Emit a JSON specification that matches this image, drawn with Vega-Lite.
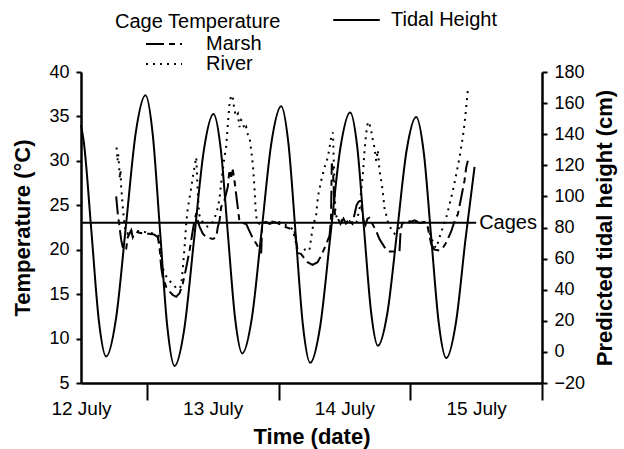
{
  "$schema": "https://vega.github.io/schema/vega-lite/v6.json",
  "width": 461,
  "height": 311,
  "autosize": {"type": "none"},
  "padding": {"left": 81, "top": 72, "right": 82, "bottom": 66},
  "background": "white",
  "title": {"text": "Cage Temperature", "anchor": "start", "frame": "group", "dx": 34, "offset": -38, "baseline": "alphabetic", "fontSize": 20, "fontWeight": "normal", "font": "Liberation Sans", "color": "black"},
  "config": {
    "font": "Liberation Sans",
    "view": {"stroke": null},
    "axis": {"grid": false, "domainColor": "black", "domainWidth": 2.5, "tickColor": "black", "tickWidth": 2, "tickSize": 5, "labelColor": "black", "labelFontSize": 18, "labelFont": "Liberation Sans", "titleFont": "Liberation Sans", "titleFontSize": 22, "titleFontWeight": "bold", "titleColor": "black"},
    "legend": {"labelFont": "Liberation Sans", "labelFontSize": 20, "labelColor": "black", "symbolType": "stroke", "symbolStrokeColor": "black", "symbolStrokeWidth": 2, "clipHeight": 20, "rowPadding": 0, "padding": 0}
  },
  "datasets": {
    "temp": [
      {"day": 0.267, "temp": 26.0, "series": "Marsh"}, {"day": 0.272, "temp": 25.2, "series": "Marsh"}, {"day": 0.279, "temp": 24.1, "series": "Marsh"}, {"day": 0.292, "temp": 22.6, "series": "Marsh"}, {"day": 0.305, "temp": 21.1, "series": "Marsh"}, {"day": 0.317, "temp": 20.3, "series": "Marsh"}, {"day": 0.33, "temp": 19.9, "series": "Marsh"}, {"day": 0.343, "temp": 20.1, "series": "Marsh"}, {"day": 0.355, "temp": 21.4, "series": "Marsh"}, {"day": 0.368, "temp": 21.8, "series": "Marsh"}, {"day": 0.381, "temp": 22.2, "series": "Marsh"}, {"day": 0.393, "temp": 21.4, "series": "Marsh"}, {"day": 0.406, "temp": 21.8, "series": "Marsh"}, {"day": 0.419, "temp": 22.0, "series": "Marsh"}, {"day": 0.444, "temp": 21.9, "series": "Marsh"}, {"day": 0.482, "temp": 21.8, "series": "Marsh"}, {"day": 0.52, "temp": 21.8, "series": "Marsh"}, {"day": 0.558, "temp": 21.7, "series": "Marsh"}, {"day": 0.583, "temp": 21.4, "series": "Marsh"}, {"day": 0.596, "temp": 20.3, "series": "Marsh"}, {"day": 0.609, "temp": 18.0, "series": "Marsh"}, {"day": 0.621, "temp": 16.9, "series": "Marsh"}, {"day": 0.647, "temp": 15.8, "series": "Marsh"}, {"day": 0.672, "temp": 15.3, "series": "Marsh"}, {"day": 0.697, "temp": 14.9, "series": "Marsh"}, {"day": 0.723, "temp": 14.7, "series": "Marsh"}, {"day": 0.748, "temp": 15.1, "series": "Marsh"}, {"day": 0.773, "temp": 16.2, "series": "Marsh"}, {"day": 0.799, "temp": 18.0, "series": "Marsh"}, {"day": 0.824, "temp": 19.9, "series": "Marsh"}, {"day": 0.849, "temp": 22.2, "series": "Marsh"}, {"day": 0.862, "temp": 23.3, "series": "Marsh"}, {"day": 0.875, "temp": 24.1, "series": "Marsh"}, {"day": 0.887, "temp": 23.3, "series": "Marsh"}, {"day": 0.9, "temp": 22.6, "series": "Marsh"}, {"day": 0.925, "temp": 21.8, "series": "Marsh"}, {"day": 0.951, "temp": 21.4, "series": "Marsh"}, {"day": 1.001, "temp": 21.2, "series": "Marsh"}, {"day": 1.027, "temp": 21.4, "series": "Marsh"}, {"day": 1.039, "temp": 22.6, "series": "Marsh"}, {"day": 1.052, "temp": 23.3, "series": "Marsh"}, {"day": 1.064, "temp": 24.8, "series": "Marsh"}, {"day": 1.09, "temp": 25.6, "series": "Marsh"}, {"day": 1.115, "temp": 27.1, "series": "Marsh"}, {"day": 1.127, "temp": 29.0, "series": "Marsh"}, {"day": 1.14, "temp": 28.2, "series": "Marsh"}, {"day": 1.153, "temp": 29.0, "series": "Marsh"}, {"day": 1.165, "temp": 27.8, "series": "Marsh"}, {"day": 1.184, "temp": 25.5, "series": "Marsh"}, {"day": 1.203, "temp": 23.2, "series": "Marsh"}, {"day": 1.228, "temp": 23.0, "series": "Marsh"}, {"day": 1.254, "temp": 22.9, "series": "Marsh"}, {"day": 1.279, "temp": 22.1, "series": "Marsh"}, {"day": 1.304, "temp": 21.3, "series": "Marsh"}, {"day": 1.33, "temp": 20.7, "series": "Marsh"}, {"day": 1.342, "temp": 20.4, "series": "Marsh"}, {"day": 1.368, "temp": 19.6, "series": "Marsh"}, {"day": 1.376, "temp": 23.0, "series": "Marsh"}, {"day": 1.406, "temp": 23.1, "series": "Marsh"}, {"day": 1.431, "temp": 22.9, "series": "Marsh"}, {"day": 1.469, "temp": 23.1, "series": "Marsh"}, {"day": 1.507, "temp": 22.9, "series": "Marsh"}, {"day": 1.545, "temp": 22.6, "series": "Marsh"}, {"day": 1.583, "temp": 22.4, "series": "Marsh"}, {"day": 1.621, "temp": 22.1, "series": "Marsh"}, {"day": 1.644, "temp": 20.0, "series": "Marsh"}, {"day": 1.682, "temp": 19.3, "series": "Marsh"}, {"day": 1.72, "temp": 18.6, "series": "Marsh"}, {"day": 1.758, "temp": 18.3, "series": "Marsh"}, {"day": 1.796, "temp": 18.6, "series": "Marsh"}, {"day": 1.826, "temp": 19.4, "series": "Marsh"}, {"day": 1.864, "temp": 20.7, "series": "Marsh"}, {"day": 1.887, "temp": 21.6, "series": "Marsh"}, {"day": 1.898, "temp": 23.5, "series": "Marsh"}, {"day": 1.904, "temp": 29.7, "series": "Marsh"}, {"day": 1.913, "temp": 29.0, "series": "Marsh"}, {"day": 1.921, "temp": 26.0, "series": "Marsh"}, {"day": 1.928, "temp": 24.0, "series": "Marsh"}, {"day": 1.947, "temp": 23.6, "series": "Marsh"}, {"day": 1.97, "temp": 22.9, "series": "Marsh"}, {"day": 1.993, "temp": 23.5, "series": "Marsh"}, {"day": 2.016, "temp": 22.8, "series": "Marsh"}, {"day": 2.039, "temp": 23.2, "series": "Marsh"}, {"day": 2.061, "temp": 22.9, "series": "Marsh"}, {"day": 2.077, "temp": 24.0, "series": "Marsh"}, {"day": 2.092, "temp": 25.0, "series": "Marsh"}, {"day": 2.107, "temp": 25.4, "series": "Marsh"}, {"day": 2.122, "temp": 25.5, "series": "Marsh"}, {"day": 2.133, "temp": 24.5, "series": "Marsh"}, {"day": 2.145, "temp": 23.3, "series": "Marsh"}, {"day": 2.16, "temp": 22.8, "series": "Marsh"}, {"day": 2.175, "temp": 23.5, "series": "Marsh"}, {"day": 2.19, "temp": 23.6, "series": "Marsh"}, {"day": 2.213, "temp": 22.9, "series": "Marsh"}, {"day": 2.241, "temp": 22.1, "series": "Marsh"}, {"day": 2.266, "temp": 21.2, "series": "Marsh"}, {"day": 2.291, "temp": 20.6, "series": "Marsh"}, {"day": 2.317, "temp": 20.0, "series": "Marsh"}, {"day": 2.342, "temp": 19.8, "series": "Marsh"}, {"day": 2.38, "temp": 19.8, "series": "Marsh"}, {"day": 2.418, "temp": 19.8, "series": "Marsh"}, {"day": 2.426, "temp": 22.0, "series": "Marsh"}, {"day": 2.437, "temp": 22.9, "series": "Marsh"}, {"day": 2.456, "temp": 23.1, "series": "Marsh"}, {"day": 2.494, "temp": 23.1, "series": "Marsh"}, {"day": 2.532, "temp": 23.3, "series": "Marsh"}, {"day": 2.57, "temp": 23.0, "series": "Marsh"}, {"day": 2.608, "temp": 23.1, "series": "Marsh"}, {"day": 2.633, "temp": 22.5, "series": "Marsh"}, {"day": 2.659, "temp": 20.6, "series": "Marsh"}, {"day": 2.684, "temp": 20.0, "series": "Marsh"}, {"day": 2.722, "temp": 19.9, "series": "Marsh"}, {"day": 2.747, "temp": 20.2, "series": "Marsh"}, {"day": 2.773, "temp": 20.8, "series": "Marsh"}, {"day": 2.811, "temp": 22.1, "series": "Marsh"}, {"day": 2.836, "temp": 23.2, "series": "Marsh"}, {"day": 2.861, "temp": 24.0, "series": "Marsh"}, {"day": 2.887, "temp": 25.9, "series": "Marsh"}, {"day": 2.912, "temp": 27.8, "series": "Marsh"}, {"day": 2.925, "temp": 29.3, "series": "Marsh"}, {"day": 2.937, "temp": 30.0, "series": "Marsh"},
      {"day": 0.27, "temp": 31.5, "series": "River"}, {"day": 0.277, "temp": 30.0, "series": "River"}, {"day": 0.282, "temp": 30.8, "series": "River"}, {"day": 0.289, "temp": 29.5, "series": "River"}, {"day": 0.295, "temp": 28.0, "series": "River"}, {"day": 0.3, "temp": 29.0, "series": "River"}, {"day": 0.305, "temp": 27.0, "series": "River"}, {"day": 0.311, "temp": 26.0, "series": "River"}, {"day": 0.317, "temp": 24.8, "series": "River"}, {"day": 0.326, "temp": 23.5, "series": "River"}, {"day": 0.338, "temp": 22.0, "series": "River"}, {"day": 0.353, "temp": 21.8, "series": "River"}, {"day": 0.368, "temp": 22.3, "series": "River"}, {"day": 0.391, "temp": 22.0, "series": "River"}, {"day": 0.444, "temp": 22.1, "series": "River"}, {"day": 0.52, "temp": 21.9, "series": "River"}, {"day": 0.558, "temp": 21.8, "series": "River"}, {"day": 0.596, "temp": 21.5, "series": "River"}, {"day": 0.609, "temp": 19.0, "series": "River"}, {"day": 0.621, "temp": 17.9, "series": "River"}, {"day": 0.647, "temp": 17.0, "series": "River"}, {"day": 0.672, "temp": 16.5, "series": "River"}, {"day": 0.697, "temp": 16.1, "series": "River"}, {"day": 0.723, "temp": 15.7, "series": "River"}, {"day": 0.748, "temp": 15.6, "series": "River"}, {"day": 0.761, "temp": 16.0, "series": "River"}, {"day": 0.773, "temp": 17.9, "series": "River"}, {"day": 0.786, "temp": 20.2, "series": "River"}, {"day": 0.799, "temp": 23.0, "series": "River"}, {"day": 0.811, "temp": 24.7, "series": "River"}, {"day": 0.824, "temp": 25.8, "series": "River"}, {"day": 0.837, "temp": 27.0, "series": "River"}, {"day": 0.849, "temp": 28.2, "series": "River"}, {"day": 0.862, "temp": 29.3, "series": "River"}, {"day": 0.875, "temp": 30.4, "series": "River"}, {"day": 0.885, "temp": 27.0, "series": "River"}, {"day": 0.896, "temp": 24.0, "series": "River"}, {"day": 0.915, "temp": 23.3, "series": "River"}, {"day": 0.938, "temp": 22.8, "series": "River"}, {"day": 0.96, "temp": 22.6, "series": "River"}, {"day": 0.991, "temp": 22.9, "series": "River"}, {"day": 1.014, "temp": 23.5, "series": "River"}, {"day": 1.027, "temp": 24.2, "series": "River"}, {"day": 1.039, "temp": 24.7, "series": "River"}, {"day": 1.052, "temp": 25.8, "series": "River"}, {"day": 1.064, "temp": 27.5, "series": "River"}, {"day": 1.077, "temp": 29.0, "series": "River"}, {"day": 1.09, "temp": 30.5, "series": "River"}, {"day": 1.102, "temp": 31.5, "series": "River"}, {"day": 1.115, "temp": 34.2, "series": "River"}, {"day": 1.127, "temp": 36.3, "series": "River"}, {"day": 1.14, "temp": 37.4, "series": "River"}, {"day": 1.153, "temp": 37.0, "series": "River"}, {"day": 1.165, "temp": 35.7, "series": "River"}, {"day": 1.178, "temp": 35.0, "series": "River"}, {"day": 1.191, "temp": 35.3, "series": "River"}, {"day": 1.203, "temp": 33.8, "series": "River"}, {"day": 1.216, "temp": 34.6, "series": "River"}, {"day": 1.228, "temp": 34.4, "series": "River"}, {"day": 1.241, "temp": 33.5, "series": "River"}, {"day": 1.254, "temp": 33.8, "series": "River"}, {"day": 1.266, "temp": 33.0, "series": "River"}, {"day": 1.279, "temp": 32.7, "series": "River"}, {"day": 1.292, "temp": 31.2, "series": "River"}, {"day": 1.304, "temp": 29.7, "series": "River"}, {"day": 1.317, "temp": 27.0, "series": "River"}, {"day": 1.325, "temp": 24.7, "series": "River"}, {"day": 1.335, "temp": 23.2, "series": "River"}, {"day": 1.355, "temp": 22.9, "series": "River"}, {"day": 1.431, "temp": 23.2, "series": "River"}, {"day": 1.507, "temp": 23.1, "series": "River"}, {"day": 1.583, "temp": 22.6, "series": "River"}, {"day": 1.606, "temp": 22.3, "series": "River"}, {"day": 1.629, "temp": 21.0, "series": "River"}, {"day": 1.646, "temp": 19.5, "series": "River"}, {"day": 1.672, "temp": 19.8, "series": "River"}, {"day": 1.697, "temp": 20.0, "series": "River"}, {"day": 1.722, "temp": 20.2, "series": "River"}, {"day": 1.735, "temp": 20.0, "series": "River"}, {"day": 1.748, "temp": 21.4, "series": "River"}, {"day": 1.76, "temp": 22.5, "series": "River"}, {"day": 1.786, "temp": 24.0, "series": "River"}, {"day": 1.798, "temp": 25.9, "series": "River"}, {"day": 1.824, "temp": 27.8, "series": "River"}, {"day": 1.849, "temp": 29.3, "series": "River"}, {"day": 1.874, "temp": 30.4, "series": "River"}, {"day": 1.887, "temp": 31.5, "series": "River"}, {"day": 1.9, "temp": 32.7, "series": "River"}, {"day": 1.913, "temp": 33.2, "series": "River"}, {"day": 1.921, "temp": 29.0, "series": "River"}, {"day": 1.932, "temp": 24.0, "series": "River"}, {"day": 1.947, "temp": 23.5, "series": "River"}, {"day": 1.978, "temp": 23.3, "series": "River"}, {"day": 2.008, "temp": 23.0, "series": "River"}, {"day": 2.039, "temp": 23.4, "series": "River"}, {"day": 2.069, "temp": 22.9, "series": "River"}, {"day": 2.089, "temp": 22.9, "series": "River"}, {"day": 2.115, "temp": 24.7, "series": "River"}, {"day": 2.127, "temp": 26.6, "series": "River"}, {"day": 2.14, "temp": 28.5, "series": "River"}, {"day": 2.153, "temp": 31.2, "series": "River"}, {"day": 2.165, "temp": 33.1, "series": "River"}, {"day": 2.178, "temp": 34.4, "series": "River"}, {"day": 2.19, "temp": 34.2, "series": "River"}, {"day": 2.203, "temp": 33.4, "series": "River"}, {"day": 2.216, "temp": 32.3, "series": "River"}, {"day": 2.228, "temp": 31.5, "series": "River"}, {"day": 2.241, "temp": 30.0, "series": "River"}, {"day": 2.254, "temp": 31.2, "series": "River"}, {"day": 2.266, "temp": 28.9, "series": "River"}, {"day": 2.279, "temp": 27.8, "series": "River"}, {"day": 2.291, "temp": 26.6, "series": "River"}, {"day": 2.304, "temp": 24.7, "series": "River"}, {"day": 2.329, "temp": 23.2, "series": "River"}, {"day": 2.355, "temp": 22.3, "series": "River"}, {"day": 2.38, "temp": 21.8, "series": "River"}, {"day": 2.418, "temp": 22.5, "series": "River"}, {"day": 2.456, "temp": 23.2, "series": "River"}, {"day": 2.532, "temp": 23.2, "series": "River"}, {"day": 2.608, "temp": 23.1, "series": "River"}, {"day": 2.631, "temp": 22.6, "series": "River"}, {"day": 2.659, "temp": 21.4, "series": "River"}, {"day": 2.684, "temp": 20.4, "series": "River"}, {"day": 2.697, "temp": 20.2, "series": "River"}, {"day": 2.722, "temp": 21.4, "series": "River"}, {"day": 2.747, "temp": 22.5, "series": "River"}, {"day": 2.773, "temp": 23.6, "series": "River"}, {"day": 2.798, "temp": 25.1, "series": "River"}, {"day": 2.823, "temp": 26.6, "series": "River"}, {"day": 2.849, "temp": 28.5, "series": "River"}, {"day": 2.874, "temp": 30.4, "series": "River"}, {"day": 2.899, "temp": 32.7, "series": "River"}, {"day": 2.912, "temp": 34.2, "series": "River"}, {"day": 2.925, "temp": 36.1, "series": "River"}, {"day": 2.937, "temp": 38.0, "series": "River"}
    ],
    "tide": [
      {"day": 0.0, "height": 146}, {"day": 0.022, "height": 134.5}, {"day": 0.079, "height": 77.5}, {"day": 0.135, "height": 20.5}, {"day": 0.191, "height": -3},
      {"day": 0.266, "height": 21.5}, {"day": 0.341, "height": 81}, {"day": 0.415, "height": 140.5}, {"day": 0.49, "height": 165},
      {"day": 0.545, "height": 139.6}, {"day": 0.6, "height": 78}, {"day": 0.655, "height": 16.4}, {"day": 0.71, "height": -9},
      {"day": 0.784, "height": 14.7}, {"day": 0.858, "height": 72}, {"day": 0.932, "height": 129.3}, {"day": 1.006, "height": 153},
      {"day": 1.061, "height": 130.5}, {"day": 1.115, "height": 76}, {"day": 1.17, "height": 21.5}, {"day": 1.224, "height": -1},
      {"day": 1.298, "height": 22.2}, {"day": 1.372, "height": 78.5}, {"day": 1.446, "height": 134.8}, {"day": 1.52, "height": 158},
      {"day": 1.575, "height": 133.9}, {"day": 1.63, "height": 75.5}, {"day": 1.685, "height": 17.1}, {"day": 1.74, "height": -7},
      {"day": 1.816, "height": 16.5}, {"day": 1.892, "height": 73.5}, {"day": 1.968, "height": 130.5}, {"day": 2.044, "height": 154},
      {"day": 2.097, "height": 132.1}, {"day": 2.149, "height": 79}, {"day": 2.202, "height": 25.9}, {"day": 2.254, "height": 4},
      {"day": 2.327, "height": 25.5}, {"day": 2.4, "height": 77.5}, {"day": 2.472, "height": 129.5}, {"day": 2.545, "height": 151},
      {"day": 2.602, "height": 128.4}, {"day": 2.659, "height": 73.5}, {"day": 2.716, "height": 18.6}, {"day": 2.773, "height": -4},
      {"day": 2.846, "height": 18.5}, {"day": 2.92, "height": 73}, {"day": 2.988, "height": 119}
    ],
    "cages": [{"day": 0, "dayEnd": 3.0, "height": 83, "label": "Cages"}]
  },
  "encoding": {
    "x": {
      "field": "day", "type": "quantitative",
      "scale": {"domain": [0, 3.5], "nice": false, "zero": false},
      "axis": {
        "title": "Time (date)", "titlePadding": 8,
        "values": [0, 0.5, 1, 1.5, 2, 2.5, 3, 3.5],
        "labelExpr": "datum.value % 1 === 0 ? (12 + datum.value) + ' July' : ''",
        "labelFontSize": 19, "labelOverlap": false, "labelFlush": false, "labelPadding": -1,
        "tickSize": 17,
        "tickOpacity": {"condition": {"test": "datum.value % 1 === 0", "value": 0}, "value": 1}
      }
    }
  },
  "layer": [
    {
      "data": {"name": "temp"},
      "mark": {"type": "line", "color": "black", "strokeWidth": 2, "clip": true},
      "encoding": {
        "y": {"field": "temp", "type": "quantitative", "scale": {"domain": [5, 40], "nice": false, "zero": false},
              "axis": {"orient": "left", "title": "Temperature (°C)", "values": [5, 10, 15, 20, 25, 30, 35, 40], "labelPadding": 7, "titlePadding": 14}},
        "strokeDash": {"field": "series", "type": "nominal",
          "scale": {"domain": ["Marsh", "River"], "range": [[18, 5, 6, 5], [2, 5]]},
          "legend": {"title": null, "orient": "none", "legendX": 64, "legendY": -38, "symbolSize": 1296, "labelOffset": 23}}
      }
    },
    {
      "encoding": {
        "y": {"field": "height", "type": "quantitative", "scale": {"domain": [-20, 180], "nice": false, "zero": false},
              "axis": {"orient": "right", "title": "Predicted tidal height (cm)", "titleAngle": 270, "titleBaseline": "top", "values": [-20, 0, 20, 40, 60, 80, 100, 120, 140, 160, 180], "labelPadding": 7, "titlePadding": 10}}
      },
      "layer": [
        {
          "data": {"name": "tide"},
          "mark": {"type": "line", "strokeWidth": 2, "interpolate": "monotone"},
          "encoding": {
            "color": {"datum": "Tidal Height", "type": "nominal", "scale": {"range": ["black"]},
              "legend": {"title": null, "orient": "none", "legendX": 251, "legendY": -62, "symbolSize": 2172, "labelOffset": 10}}
          }
        },
        {
          "data": {"name": "cages"},
          "mark": {"type": "rule", "color": "black", "strokeWidth": 2},
          "encoding": {"x2": {"field": "dayEnd"}}
        },
        {
          "data": {"name": "cages"},
          "mark": {"type": "text", "align": "left", "baseline": "middle", "dx": 3, "fontSize": 20, "font": "Liberation Sans", "color": "black"},
          "encoding": {"x": {"field": "dayEnd", "type": "quantitative"}, "text": {"field": "label"}}
        }
      ]
    }
  ],
  "resolve": {"scale": {"y": "independent"}}
}
